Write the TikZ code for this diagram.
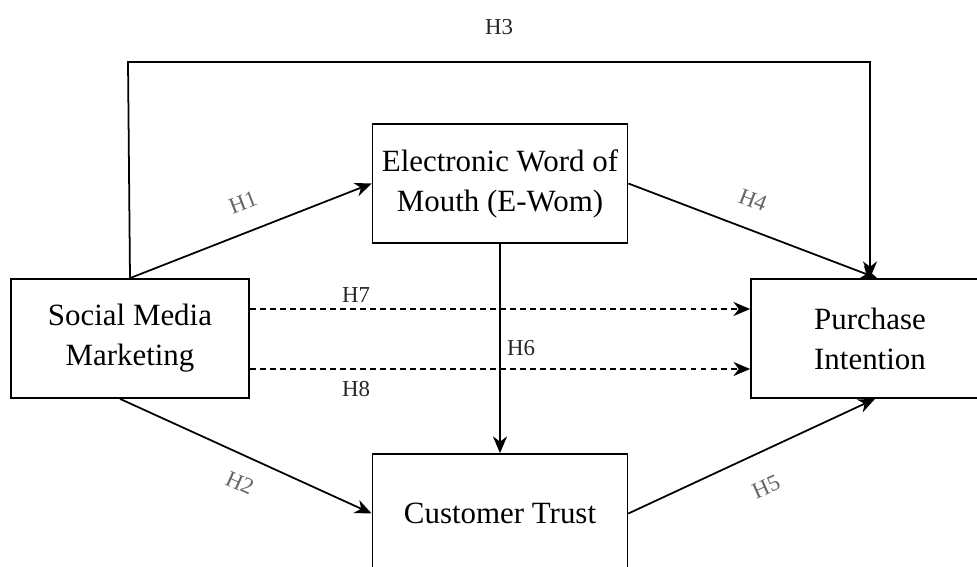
\documentclass[tikz,border=0pt]{standalone}
\usepackage{fontspec}
\setmainfont{Liberation Serif}
\usepackage{tikz}
\usetikzlibrary{arrows.meta,calc}

\tikzset{
	var/.style={draw, line width=1pt, inner sep=0pt, align=center,
		font=\fontsize{17.6}{22.7}\selectfont},
	arr/.style={line width=1pt, -{Stealth[length=9.5pt,width=8pt,inset=3pt]}},
	dasharr/.style={arr, dash pattern=on 3.4pt off 2.3pt},
	hyp/.style={font=\fontsize{13}{15}\selectfont, text=black!85},
	hypr/.style={hyp, text=black!60}
}

\begin{document}
\begin{tikzpicture}[x=0.02cm, y=-0.02cm]
	\clip (0,0) rectangle (977,567);

	% constructs
	\node[var, minimum width=4.76cm, minimum height=2.38cm] (smm) at (130,338.5) {Social Media\\Marketing};
	\node[var, minimum width=5.1cm, minimum height=2.38cm] (ewom) at (500,183.5) {Electronic Word of\\Mouth (E-Wom)};
	\node[var, minimum width=4.76cm, minimum height=2.38cm] (pi) at (870,338.5) {Purchase\\Intention};
	\node[var, minimum width=5.1cm, minimum height=2.38cm] (ct) at (500,513.5) {Customer Trust};

	% corners of the direct path
	\coordinate (tl) at (128,62);
	\coordinate (tr) at (870,62);

	% paths
	\draw[arr] (smm.north) -- (ewom.west);
	\draw[arr] ([xshift=-0.2cm]smm.south) -- (ct.west);
	\draw[arr] (smm.north) -- (tl) -- (tr) -- (pi.north);
	\draw[arr] (ewom.east) -- ([xshift=0.14cm]pi.north);
	\draw[arr] (ct.east) -- ([xshift=0.1cm]pi.south);
	\draw[arr] (ewom.south) -- (ct.north);
	\draw[dasharr] ([yshift=0.59cm]smm.east) -- ([yshift=0.59cm]pi.west);
	\draw[dasharr] ([yshift=-0.61cm]smm.east) -- ([yshift=-0.61cm]pi.west);

	% hypotheses
	\node[hypr, rotate=21] (h1) at (243,202) {H1};
	\node[hypr, rotate=-24] (h2) at (240,483) {H2};
	\node[hyp] (h3) at (499,27) {H3};
	\node[hypr, rotate=-21] (h4) at (753,200) {H4};
	\node[hypr, rotate=24] (h5) at (766,487) {H5};
	\node[hyp] (h6) at (521,348) {H6};
	\node[hyp] (h7) at (356,295) {H7};
	\node[hyp] (h8) at (356,389) {H8};
\end{tikzpicture}
\end{document}
